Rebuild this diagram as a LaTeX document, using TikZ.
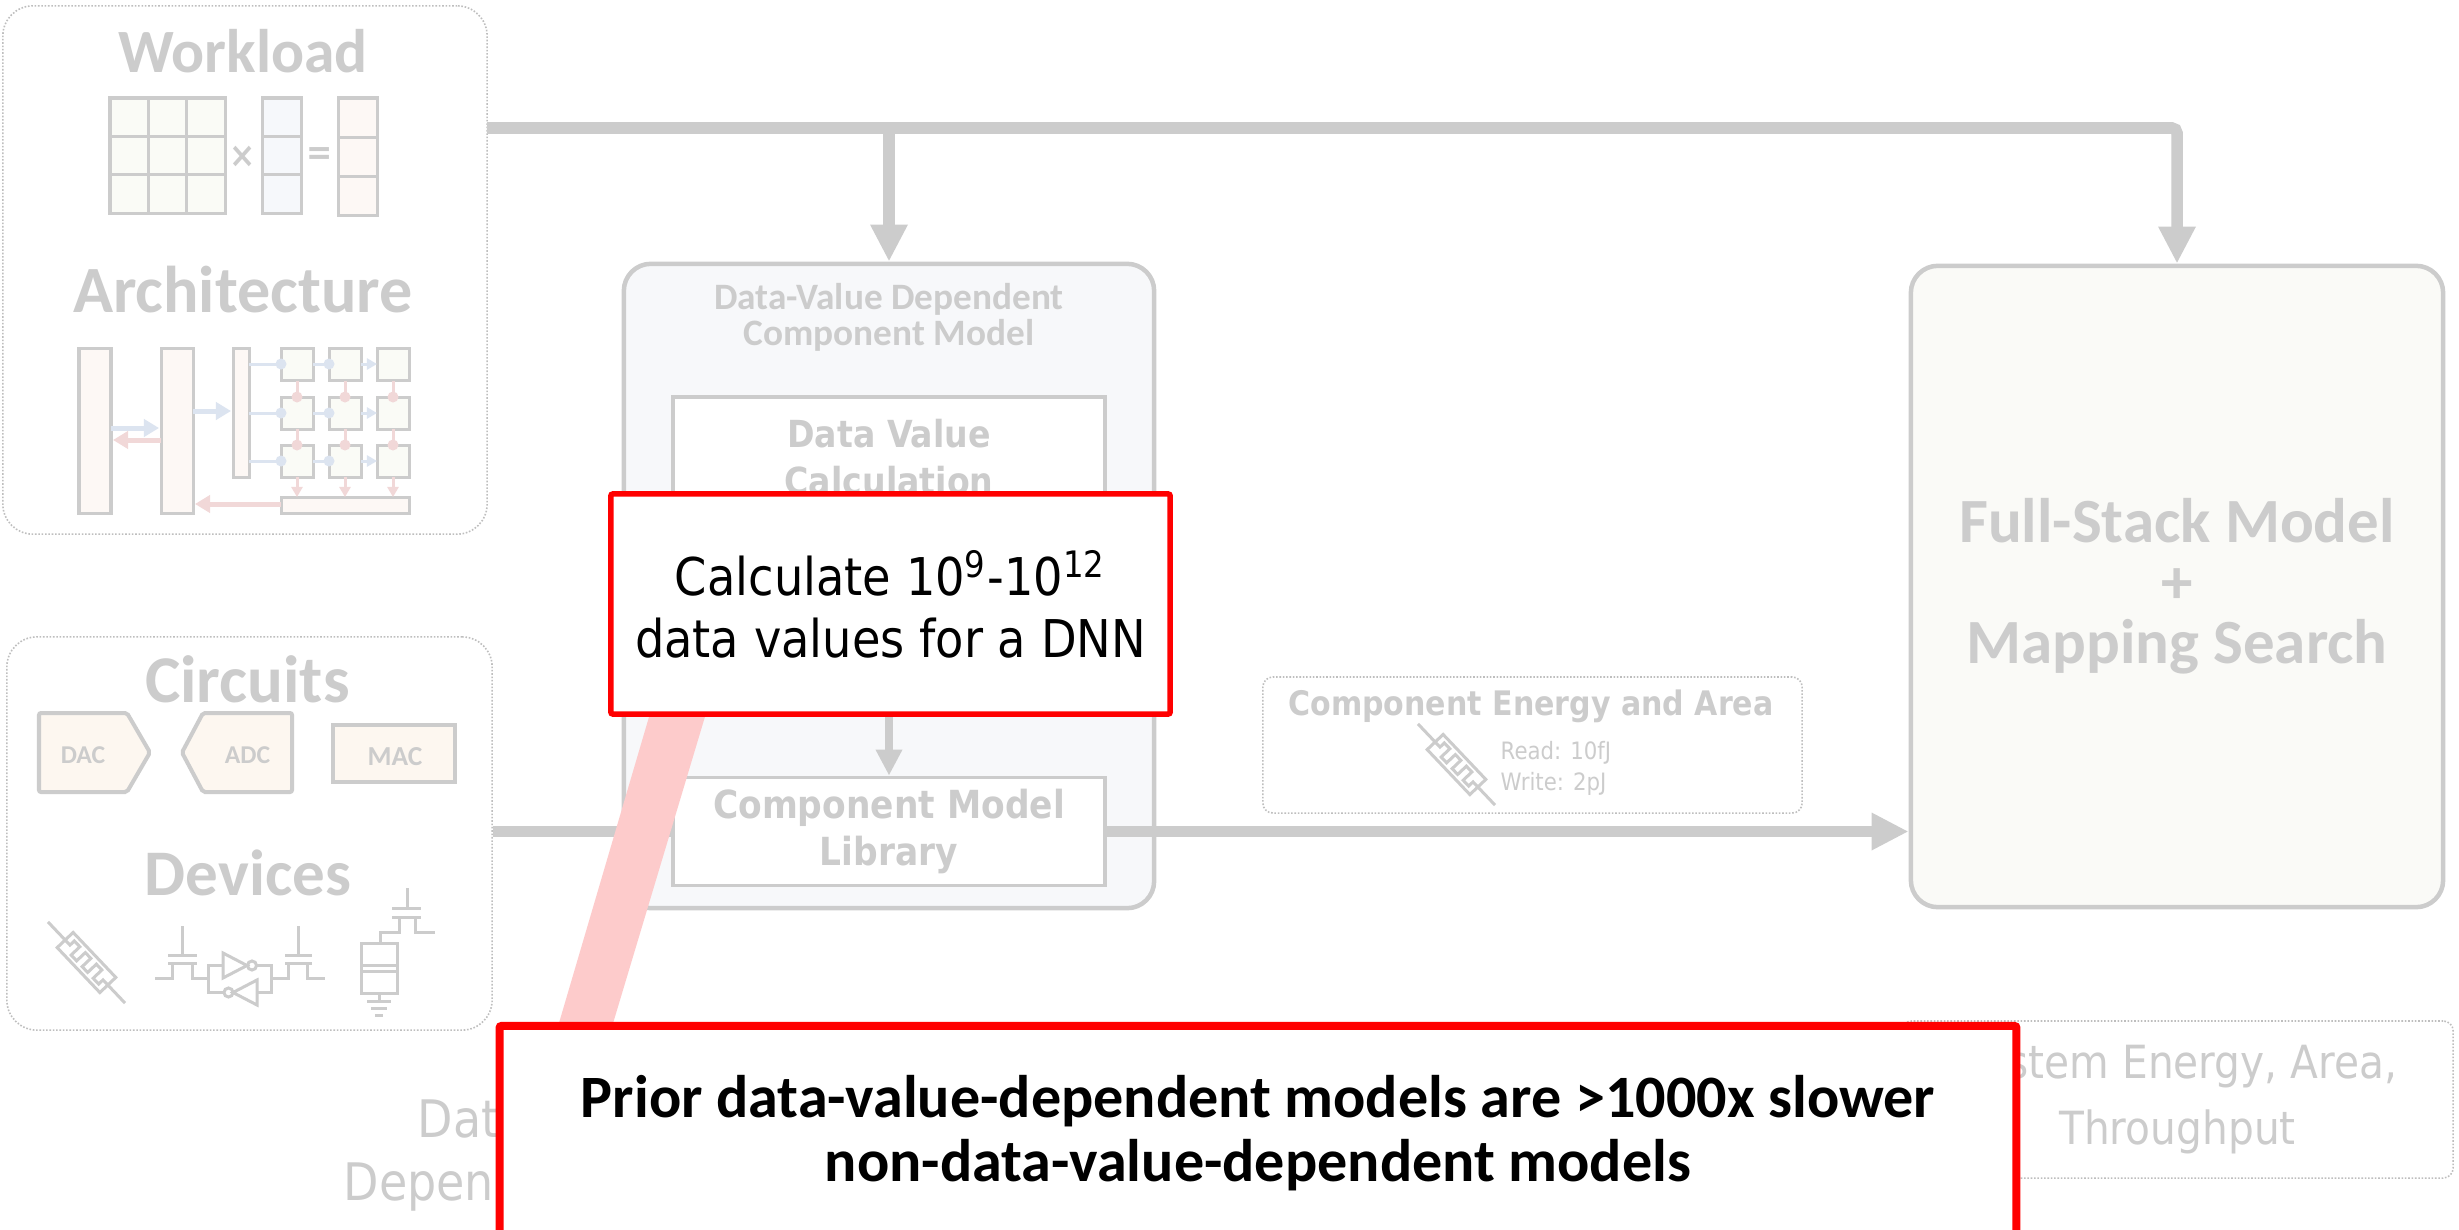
\documentclass[tikz,border=0pt]{standalone}
\usepackage{fontspec}
\usetikzlibrary{arrows.meta}
\setmainfont{DejaVu Sans}
\newfontfamily\calib{Carlito}
\newfontfamily\taho{DejaVu Sans}[FakeStretch=0.89]

\definecolor{lg}{HTML}{CCCCCC}
\definecolor{dotg}{HTML}{BEBEBE}
\definecolor{fillA}{HTML}{FAFBF6}
\definecolor{fillB}{HTML}{F6F8FB}
\definecolor{fillC}{HTML}{FDF8F5}
\definecolor{cream}{HTML}{FDF7F0}
\definecolor{arrb}{HTML}{DCE4F0}
\definecolor{arrr}{HTML}{F1D8D8}
\definecolor{dvdfill}{HTML}{F7F8FA}
\definecolor{fsfill}{HTML}{FAFAF7}
\definecolor{beam}{HTML}{FDCBCB}
\definecolor{alert}{HTML}{FF0000}

\tikzset{
  conn/.style={draw=lg, line width=0.115cm},
  bigtip/.style={-{Triangle[length=0.37cm,width=0.35cm]}},
  midtip/.style={-{Triangle[length=0.26cm,width=0.25cm]}},
  dotbox/.style={draw=dotg, line width=0.45pt, dash pattern=on 0.45pt off 0.5pt, rounded corners=0.3cm},
  panel/.style={draw=lg, line width=0.045cm, rounded corners=0.27cm},
  inner/.style={draw=lg, line width=0.035cm, fill=white},
  note/.style={draw=alert, fill=white, rounded corners=0.02cm, inner sep=0pt},
  icon/.style={draw=lg, line width=0.03cm},
  cellbox/.style={draw=lg, line width=0.03cm},
  bluearr/.style={draw=arrb, line width=0.05cm, -{Triangle[length=0.15cm,width=0.17cm]}},
  redarr/.style={draw=arrr, line width=0.05cm, -{Triangle[length=0.15cm,width=0.17cm]}},
  bluewire/.style={draw=arrb, line width=0.03cm},
  redwire/.style={draw=arrr, line width=0.03cm},
  bluetip/.style={draw=arrb, line width=0.03cm, -{Triangle[length=0.1cm,width=0.11cm]}},
  redtip/.style={draw=arrr, line width=0.03cm, -{Triangle[length=0.1cm,width=0.11cm]}},
  graytitle/.style={text=lg, inner sep=0pt},
  memr/.pic={
    \draw[icon] (-56,0) -- (56,0);
    \draw[icon, fill=white] (-31,-11) rectangle (31,11);
    \draw[icon] (-31,0) -- (-24,0) -- (-24,-6) -- (-16,-6) -- (-16,6) -- (-8,6)
      -- (-8,-6) -- (0,-6) -- (0,6) -- (8,6) -- (8,-6) -- (16,-6) -- (16,6)
      -- (24,6) -- (24,0) -- (31,0);
  }
}

\begin{document}
\begin{tikzpicture}[x=0.01cm, y=-0.01cm]
\useasboundingbox (0,0) rectangle (2459,1230);
\fill[white] (0,0) rectangle (2459,1230);
\clip (0,0) rectangle (2459,1230);

% ---------- inputs: workload and architecture ----------
\node[dotbox, minimum width=4.84cm, minimum height=5.28cm] (wl) at (245,270) {};
\node[graytitle, anchor=base, font=\calib\bfseries\fontsize{17.5}{20}\selectfont] (twork) at (243,72) {Workload};

% matrix x vector = vector
\draw[cellbox, fill=fillA] (110,98) rectangle (225,213);
\draw[cellbox] (148.3,98) -- (148.3,213) (186.7,98) -- (186.7,213)
               (110,136.3) -- (225,136.3) (110,174.7) -- (225,174.7);
\node[graytitle, font=\taho\bfseries\fontsize{10}{10}\selectfont] (ttimes) at (243,157) {×};
\draw[cellbox, fill=fillB] (262,98) rectangle (301,213);
\draw[cellbox] (262,136.3) -- (301,136.3) (262,174.7) -- (301,174.7);
\node[graytitle, font=\taho\bfseries\fontsize{10}{10}\selectfont] (teq) at (320,156) {=};
\draw[cellbox, fill=fillC] (338,98) rectangle (377,215);
\draw[cellbox] (338,137.5) -- (377,137.5) (338,176) -- (377,176);

\node[graytitle, anchor=base, font=\calib\bfseries\fontsize{18.8}{20}\selectfont] (tarch) at (243,312) {Architecture};

% memory hierarchy and PE array
\draw[cellbox, fill=fillC] (79,348) rectangle (111,513);
\draw[cellbox, fill=fillC] (161,348) rectangle (193,513);
\draw[cellbox, fill=fillC] (233,348) rectangle (249,477);
\foreach \cx in {281,329,377}
  \foreach \cy in {348,397,445}
    \draw[cellbox, fill=fillA] (\cx,\cy) rectangle ++(32,32);
\draw[cellbox, fill=fillC] (281,497) rectangle (409,513);

\draw[bluearr] (111,428) -- (159,428);
\draw[redarr] (161,440) -- (113,440);
\draw[bluearr] (193,411) -- (231,411);
\foreach \ry in {364,413,461} {
  \draw[bluewire] (249,\ry) -- (281,\ry) (313,\ry) -- (329,\ry);
  \draw[bluetip] (361,\ry) -- (377,\ry);
  \fill[arrb] (281,\ry) circle (5.5) (329,\ry) circle (5.5);
}
\foreach \rx in {297,345,393} {
  \draw[redwire] (\rx,381) -- (\rx,397) (\rx,429) -- (\rx,445);
  \fill[arrr] (\rx,397) circle (5.5) (\rx,445) circle (5.5);
  \draw[redtip] (\rx,477) -- (\rx,497);
}
\draw[redarr] (281,504) -- (195,504);

% ---------- inputs: circuits and devices ----------
\node[dotbox, minimum width=4.85cm, minimum height=3.93cm] (cd) at (249.5,833.5) {};
\node[graytitle, anchor=base, font=\calib\bfseries\fontsize{19}{20}\selectfont] (tcirc) at (247.5,702) {Circuits};

\draw[draw=lg, line width=0.04cm, fill=cream, rounded corners=0.02cm]
  (39,713) -- (127,713) -- (150,752.5) -- (127,792) -- (39,792) -- cycle;
\node[graytitle, font=\calib\bfseries\fontsize{7.3}{8}\selectfont] (tdac) at (83,755) {DAC};
\draw[draw=lg, line width=0.04cm, fill=cream, rounded corners=0.02cm]
  (182,752.5) -- (203,713) -- (292,713) -- (292,792) -- (203,792) -- cycle;
\node[graytitle, font=\calib\bfseries\fontsize{7.3}{8}\selectfont] (tadc) at (247.5,755) {ADC};
\draw[draw=lg, line width=0.04cm, fill=cream] (333,725) rectangle (455,782);
\node[graytitle, font=\calib\bfseries\fontsize{7.8}{8}\selectfont] (tmac) at (395,757) {MAC};

\node[graytitle, anchor=base, font=\calib\bfseries\fontsize{18.5}{20}\selectfont] (tdev) at (248,895) {Devices};

% memristor
\pic[rotate=-46.5] at (86.5,962.5) {memr};
% SRAM cell: access transistors and cross-coupled inverters
\draw[icon] (182,926) -- (182,955) (168,955) -- (197,955) (168,963) -- (197,963)
  (155,978) -- (172,978) -- (172,963) (192,963) -- (192,978) -- (208,978);
\draw[icon] (298,926) -- (298,955) (285,955) -- (312,955) (285,963) -- (312,963)
  (271,978) -- (288,978) -- (288,963) (307,963) -- (307,978) -- (325,978);
\draw[icon] (223,953) -- (223,978) -- (247,965.5) -- cycle;
\draw[icon] (252,965.5) circle (4.5);
\draw[icon] (257,980) -- (257,1005) -- (233,992.5) -- cycle;
\draw[icon] (228.5,992.5) circle (4.5);
\draw[icon] (223,965.5) -- (208,965.5) -- (208,992.5) -- (224,992.5)
  (256.5,965.5) -- (271,965.5) -- (271,992.5) -- (257,992.5);
% 1T1C cell
\draw[icon] (407,888) -- (407,908) (392,908) -- (421,908) (392,917) -- (421,917)
  (399,917) -- (399,932) -- (380,932) -- (380,943)
  (415,917) -- (415,932) -- (435,932);
\draw[icon] (361,943) rectangle (397,993);
\draw[icon] (361,965) -- (397,965) (361,971) -- (397,971);
\draw[icon] (379,993) -- (379,1001) (367,1001) -- (391,1001)
  (371,1008) -- (387,1008) (375,1015) -- (383,1015);

% ---------- data-value dependent component model ----------
\node[panel, fill=dvdfill, minimum width=5.30cm, minimum height=6.44cm] (dvd) at (889,586) {};
\node[graytitle, anchor=base, font=\calib\bfseries\fontsize{10.6}{12}\selectfont] (tdvd1) at (889,309) {Data-Value Dependent};
\node[graytitle, anchor=base, font=\calib\bfseries\fontsize{10.6}{12}\selectfont] (tdvd2) at (889,345) {Component Model};

\node[inner, minimum width=4.32cm, minimum height=3.03cm] (dvc) at (889,548.5) {};
\node[graytitle, anchor=base, font=\taho\bfseries\fontsize{10.6}{12}\selectfont] (tdvc1) at (889,447) {Data Value};
\node[graytitle, anchor=base, font=\taho\bfseries\fontsize{10.6}{12}\selectfont] (tdvc2) at (889,494) {Calculation};

\node[inner, minimum width=4.32cm, minimum height=1.01cm, align=center, text=lg,
      font=\taho\bfseries\fontsize{11}{13.4}\selectfont] (lib) at (889,831.5) {Component Model\\Library};

% ---------- full-stack model ----------
\node[panel, fill=fsfill, minimum width=5.32cm, minimum height=6.41cm, align=center, text=lg,
      font=\calib\bfseries\fontsize{17.9}{17.2}\selectfont] (fs) at (2177,586.5) {Full-Stack Model\\+\\Mapping Search};

% ---------- component energy and area ----------
\node[dotbox, rounded corners=0.1cm, minimum width=5.39cm, minimum height=1.36cm] (cea) at (1532.5,745) {};
\node[graytitle, anchor=base, font=\taho\bfseries\fontsize{9.6}{11}\selectfont] (tcea) at (1531,715) {Component Energy and Area};
\pic[rotate=-46.5] at (1456.5,764.5) {memr};
\node[graytitle, anchor=base west, font=\taho\fontsize{6.8}{8}\selectfont] (tread) at (1500,759.5) {Read: 10fJ};
\node[graytitle, anchor=base west, font=\taho\fontsize{6.8}{8}\selectfont] (twrite) at (1500,790.5) {Write: 2pJ};

% ---------- outputs ----------
\node[dotbox, rounded corners=0.1cm, minimum width=5.51cm, minimum height=1.57cm, align=center, text=lg,
      font=\taho\fontsize{13}{18.8}\selectfont] (sys) at (2177.5,1099.5) {System Energy, Area,\\Throughput};
\node[graytitle, anchor=base west, font=\taho\fontsize{14.7}{16}\selectfont] (tdvo1) at (417,1137) {Dat};
\node[graytitle, anchor=base west, font=\taho\fontsize{14.7}{16}\selectfont] (tdvo2) at (343,1200) {Depen};

% ---------- connectors ----------
\coordinate (trunk) at (487,128);
\draw[conn, bigtip, rounded corners=0.05cm] (trunk) -| (fs.north);
\draw[conn, bigtip] (dvd.north |- trunk) -- (dvd.north);
\draw[conn] (cd.east |- lib.west) -- (lib.west);
\draw[conn, bigtip] (lib.east) -- (lib.east -| fs.west);
\draw[draw=lg, line width=0.085cm, midtip] (dvc.south) -- (lib.north);

% ---------- callouts ----------
\fill[beam] (654,700) -- (710,700) -- (608,1040) -- (554,1040) -- cycle;

\node[note, line width=0.055cm, minimum width=5.59cm, minimum height=2.20cm, align=center,
      font=\taho\fontsize{14.8}{17.6}\selectfont] (note1) at (890.5,604)
  {Calculate 10\textsuperscript{9}-10\textsuperscript{12}\\data values for a DNN};

\node[note, line width=0.08cm, minimum width=15.16cm, minimum height=2.15cm, align=center,
      font=\calib\bfseries\fontsize{17.1}{18.2}\selectfont] (note2) at (1258,1133.5)
  {Prior data-value-dependent models are >1000x slower\\non-data-value-dependent models};

\end{tikzpicture}
\end{document}
